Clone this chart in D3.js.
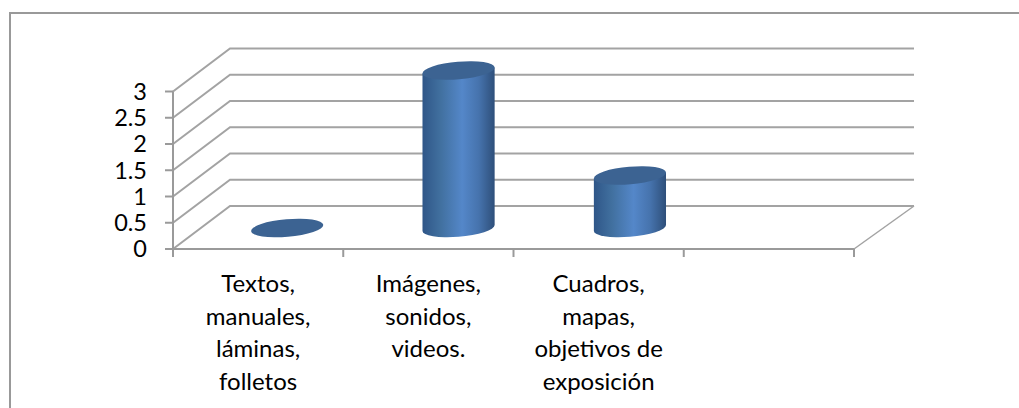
<!DOCTYPE html>
<html><head><meta charset="utf-8">
<script src="https://cdn.jsdelivr.net/npm/d3@7/dist/d3.min.js"></script>
<style>html,body{margin:0;padding:0;background:#fff}svg{display:block}text{font-family:Lato,"Open Sans",sans-serif;fill:#000}</style>
</head><body><script>
const categories=[["Textos,","manuales,","láminas,","folletos"],["Imágenes,","sonidos,","videos."],["Cuadros,","mapas,","objetivos de","exposición"],[]];
const values=[0,3,1,null];
const yTicks=[0,0.5,1,1.5,2,2.5,3];
const yTickLabels=["0","0.5","1","1.5","2","2.5","3"];

const W=1019,H=408,gridC="#a3a3a3",axisC="#9a9a9a",sw=2;
const svg=d3.select("body").append("svg").attr("width",W).attr("height",H);
const defs=svg.append("defs");
const g=defs.append("linearGradient").attr("id","cyl");
[[0,"#2f5688"],[.25,"#41709f"],[.55,"#5487c9"],[.78,"#4673ad"],[1,"#2e4f7a"]].forEach(s=>g.append("stop").attr("offset",s[0]).attr("stop-color",s[1]));

svg.append("path").attr("d",`M10 ${H}V13H${W}`).attr("fill","none").attr("stroke","#999").attr("stroke-width",2);

const y=d3.scaleLinear().domain([0,3]).range([249,91.5]);
const x=d3.scaleBand().domain(d3.range(categories.length)).range([173,854]);
const xMid=d3.scaleBand().domain(d3.range(categories.length)).range([201.5,887]);
const dx=57,dy=-43;
const lines=svg.append("g").attr("fill","none").attr("stroke-width",sw);
lines.selectAll("path.grid").data(yTicks).join("path").attr("class","grid")
  .attr("d",d=>`M173 ${y(d)}L${173+dx} ${y(d)+dy}H914`).attr("stroke",gridC);
lines.append("path").attr("d",`M854 249L914 ${y(0)+dy}`).attr("stroke",gridC).attr("stroke-width",1.5);
lines.append("path").attr("d",`M173 249H854`).attr("stroke",axisC);
lines.append("path").attr("d",`M173 ${y(3)}V249`).attr("stroke",axisC);
lines.selectAll("path.yt").data(yTicks).join("path").attr("class","yt").attr("d",d=>`M165 ${y(d)}H173`).attr("stroke",axisC);
lines.selectAll("path.xt").data(d3.range(categories.length+1)).join("path").attr("class","xt")
  .attr("d",i=>{const p=i<categories.length?x(i):854;return `M${p} 249V257`}).attr("stroke",axisC);

svg.append("g").selectAll("text").data(yTicks).join("text")
  .attr("x",147).attr("y",d=>y(d)).attr("dy","0.36em").attr("text-anchor","end").attr("font-size",23.5).text((d,i)=>yTickLabels[i]);

const rx=36.2,ry=8.8,rot=-5;
const bars=svg.append("g");
values.forEach((v,i)=>{
  if(v==null)return;
  const cx=xMid(i)+xMid.bandwidth()/2, base=249+dy/2+0.5, top=y(v)+dy/2+0.5;
  const t=rot*Math.PI/180,s=Math.sin(t),c=Math.cos(t);
  const ex=Math.sqrt(rx*rx*c*c+ry*ry*s*s), ey=(rx*rx-ry*ry)*s*c/ex;
  if(v>0){
    bars.append("path").attr("fill","url(#cyl)")
      .attr("d",`M${cx-ex} ${top-ey}L${cx-ex} ${base-ey}A${rx} ${ry} ${rot} 0 0 ${cx+ex} ${base+ey}L${cx+ex} ${top+ey}Z`);
  }
  bars.append("ellipse").attr("cx",cx).attr("cy",top).attr("rx",rx).attr("ry",ry)
    .attr("transform",`rotate(${rot} ${cx} ${top})`).attr("fill","#3c6392");
});

const labels=svg.append("g");
categories.forEach((lns,i)=>{
  labels.selectAll(null).data(lns).join("text").attr("text-anchor","middle").attr("font-size",24)
    .attr("x",x(i)+x.bandwidth()/2).attr("y",(d,j)=>292+j*32.7).text(d=>d);
});
</script></body></html>
